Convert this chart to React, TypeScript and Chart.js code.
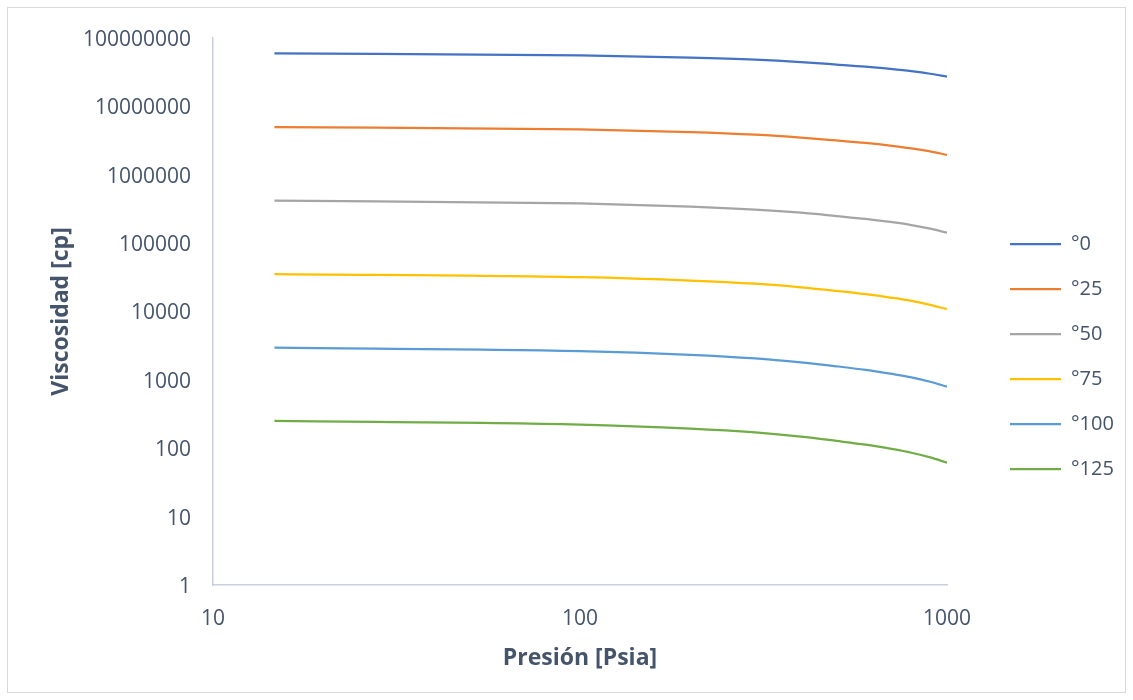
import React, { useEffect, useRef } from "react";
import { Chart, registerables } from "chart.js";

Chart.register(...registerables);

// Pressure (psia)
const pressure = [14.7, 100, 200, 300, 400, 500, 600, 700, 800, 900, 1000];

// Series labels (temperature)
const seriesLabels = ["°0", "°25", "°50", "°75", "°100", "°125"];

// Viscosity (cp)
const visc0 = [5.97e7, 5.57e7, 5.16e7, 4.81e7, 4.44e7, 4.09e7, 3.81e7, 3.53e7, 3.27e7, 3.0e7, 2.72e7];
const visc25 = [4.99e6, 4.59e6, 4.2e6, 3.85e6, 3.5e6, 3.18e6, 2.92e6, 2.67e6, 2.43e6, 2.19e6, 1.95e6];
const visc50 = [4.18e5, 3.8e5, 3.43e5, 3.1e5, 2.79e5, 2.49e5, 2.26e5, 2.04e5, 1.84e5, 1.63e5, 1.42e5];
const visc75 = [3.53e4, 3.18e4, 2.84e4, 2.55e4, 2.26e4, 2.0e4, 1.79e4, 1.6e4, 1.43e4, 1.25e4, 1.08e4];
const visc100 = [2960, 2640, 2330, 2060, 1800, 1580, 1400, 1230, 1090, 938, 794];
const visc125 = [250.6, 221.8, 193.6, 170.2, 147.9, 127.9, 112.7, 98.4, 85.9, 73.5, 61.5];

const seriesValues = [visc0, visc25, visc50, visc75, visc100, visc125];
const seriesColors = ["#4472C4", "#ED7D31", "#A5A5A5", "#FFC000", "#5B9BD5", "#70AD47"];

const xTickValues = [10, 100, 1000];
const yTickValues = [1, 10, 100, 1000, 10000, 100000, 1000000, 10000000, 100000000];

const TEXT = "#44546A";
const AXIS = "#C9D0DC";
const FONT = "'Open Sans', sans-serif";

const legendPlace = {
  id: "legendPlace",
  beforeLayout(chart: any) {
    const lg = chart.legend;
    if (lg && !lg._patched) {
      const f = lg.fit;
      lg.fit = function () {
        f.call(this);
        this.width = 178;
      };
      lg._patched = true;
    }
  },
  afterLayout(chart: any) {
    const lg = chart.legend;
    if (!lg) return;
    const w = lg.right - lg.left;
    lg.left = 977;
    lg.right = lg.left + w;
    lg.top = 201;
    lg.bottom = 684;
  },
};

export default function App() {
  const ref = useRef<HTMLCanvasElement>(null);

  useEffect(() => {
    if (!ref.current) return;
    const chart = new Chart(ref.current, {
      type: "line",
      data: {
        datasets: seriesLabels.map((label, i) => ({
          label,
          data: pressure.map((p, j) => ({ x: p, y: seriesValues[i][j] })),
          borderColor: seriesColors[i],
          backgroundColor: seriesColors[i],
          borderWidth: 2.25,
          pointRadius: 0,
          cubicInterpolationMode: "monotone" as const,
          fill: false,
        })),
      },
      options: {
        animation: false,
        responsive: false,
        maintainAspectRatio: false,
        layout: { padding: { left: 0, top: 30, right: 0, bottom: 0 } },
        plugins: {
          tooltip: { enabled: false },
          legend: {
            position: "right",
            align: "start",
            labels: {
              usePointStyle: true,
              pointStyle: "line",
              pointStyleWidth: 51,
              padding: 25,
              color: TEXT,
              font: { family: FONT, size: 20 },
            },
          },
        },
        scales: {
          x: {
            type: "logarithmic",
            min: 10,
            max: 1000,
            grid: { display: false, drawTicks: false },
            border: { display: true, color: AXIS, width: 1.5 },
            afterBuildTicks: (s: any) => {
              s.ticks = xTickValues.map((v) => ({ value: v }));
            },
            afterFit: (s: any) => {
              s.height = 107;
              s.paddingLeft = 0;
              s.paddingRight = 0;
            },
            ticks: {
              color: TEXT,
              font: { family: FONT, size: 21 },
              padding: 21,
              maxRotation: 0,
              autoSkip: false,
              callback: (v: any) => String(v),
            },
            title: {
              display: true,
              text: "Presión [Psia]",
              color: TEXT,
              font: { family: FONT, size: 23, weight: "bold" },
              padding: { top: 0, bottom: 20 },
            },
          },
          y: {
            type: "logarithmic",
            min: 1,
            max: 100000000,
            grid: { display: false, drawTicks: false },
            border: { display: true, color: AXIS, width: 1.5 },
            afterBuildTicks: (s: any) => {
              s.ticks = yTickValues.map((v) => ({ value: v }));
            },
            afterFit: (s: any) => {
              s.width = 205;
              s.paddingTop = 0;
              s.paddingBottom = 0;
            },
            ticks: {
              color: TEXT,
              font: { family: FONT, size: 21 },
              padding: 22,
              labelOffset: 2,
              autoSkip: false,
              callback: (v: any) => String(v),
            },
            title: {
              display: true,
              text: "Viscosidad [cp]",
              color: TEXT,
              font: { family: FONT, size: 23, weight: "bold" },
              padding: { top: 40, bottom: 0 },
            },
          },
        },
      },
      plugins: [legendPlace],
    });
    return () => chart.destroy();
  }, []);

  return (
    <div
      style={{
        position: "absolute",
        left: 7,
        top: 7,
        width: 1117,
        height: 684,
        border: "1px solid #D9D9D9",
        background: "#fff",
      }}
    >
      <canvas ref={ref} width={1117} height={684} style={{ display: "block", width: 1117, height: 684 }} />
    </div>
  );
}
